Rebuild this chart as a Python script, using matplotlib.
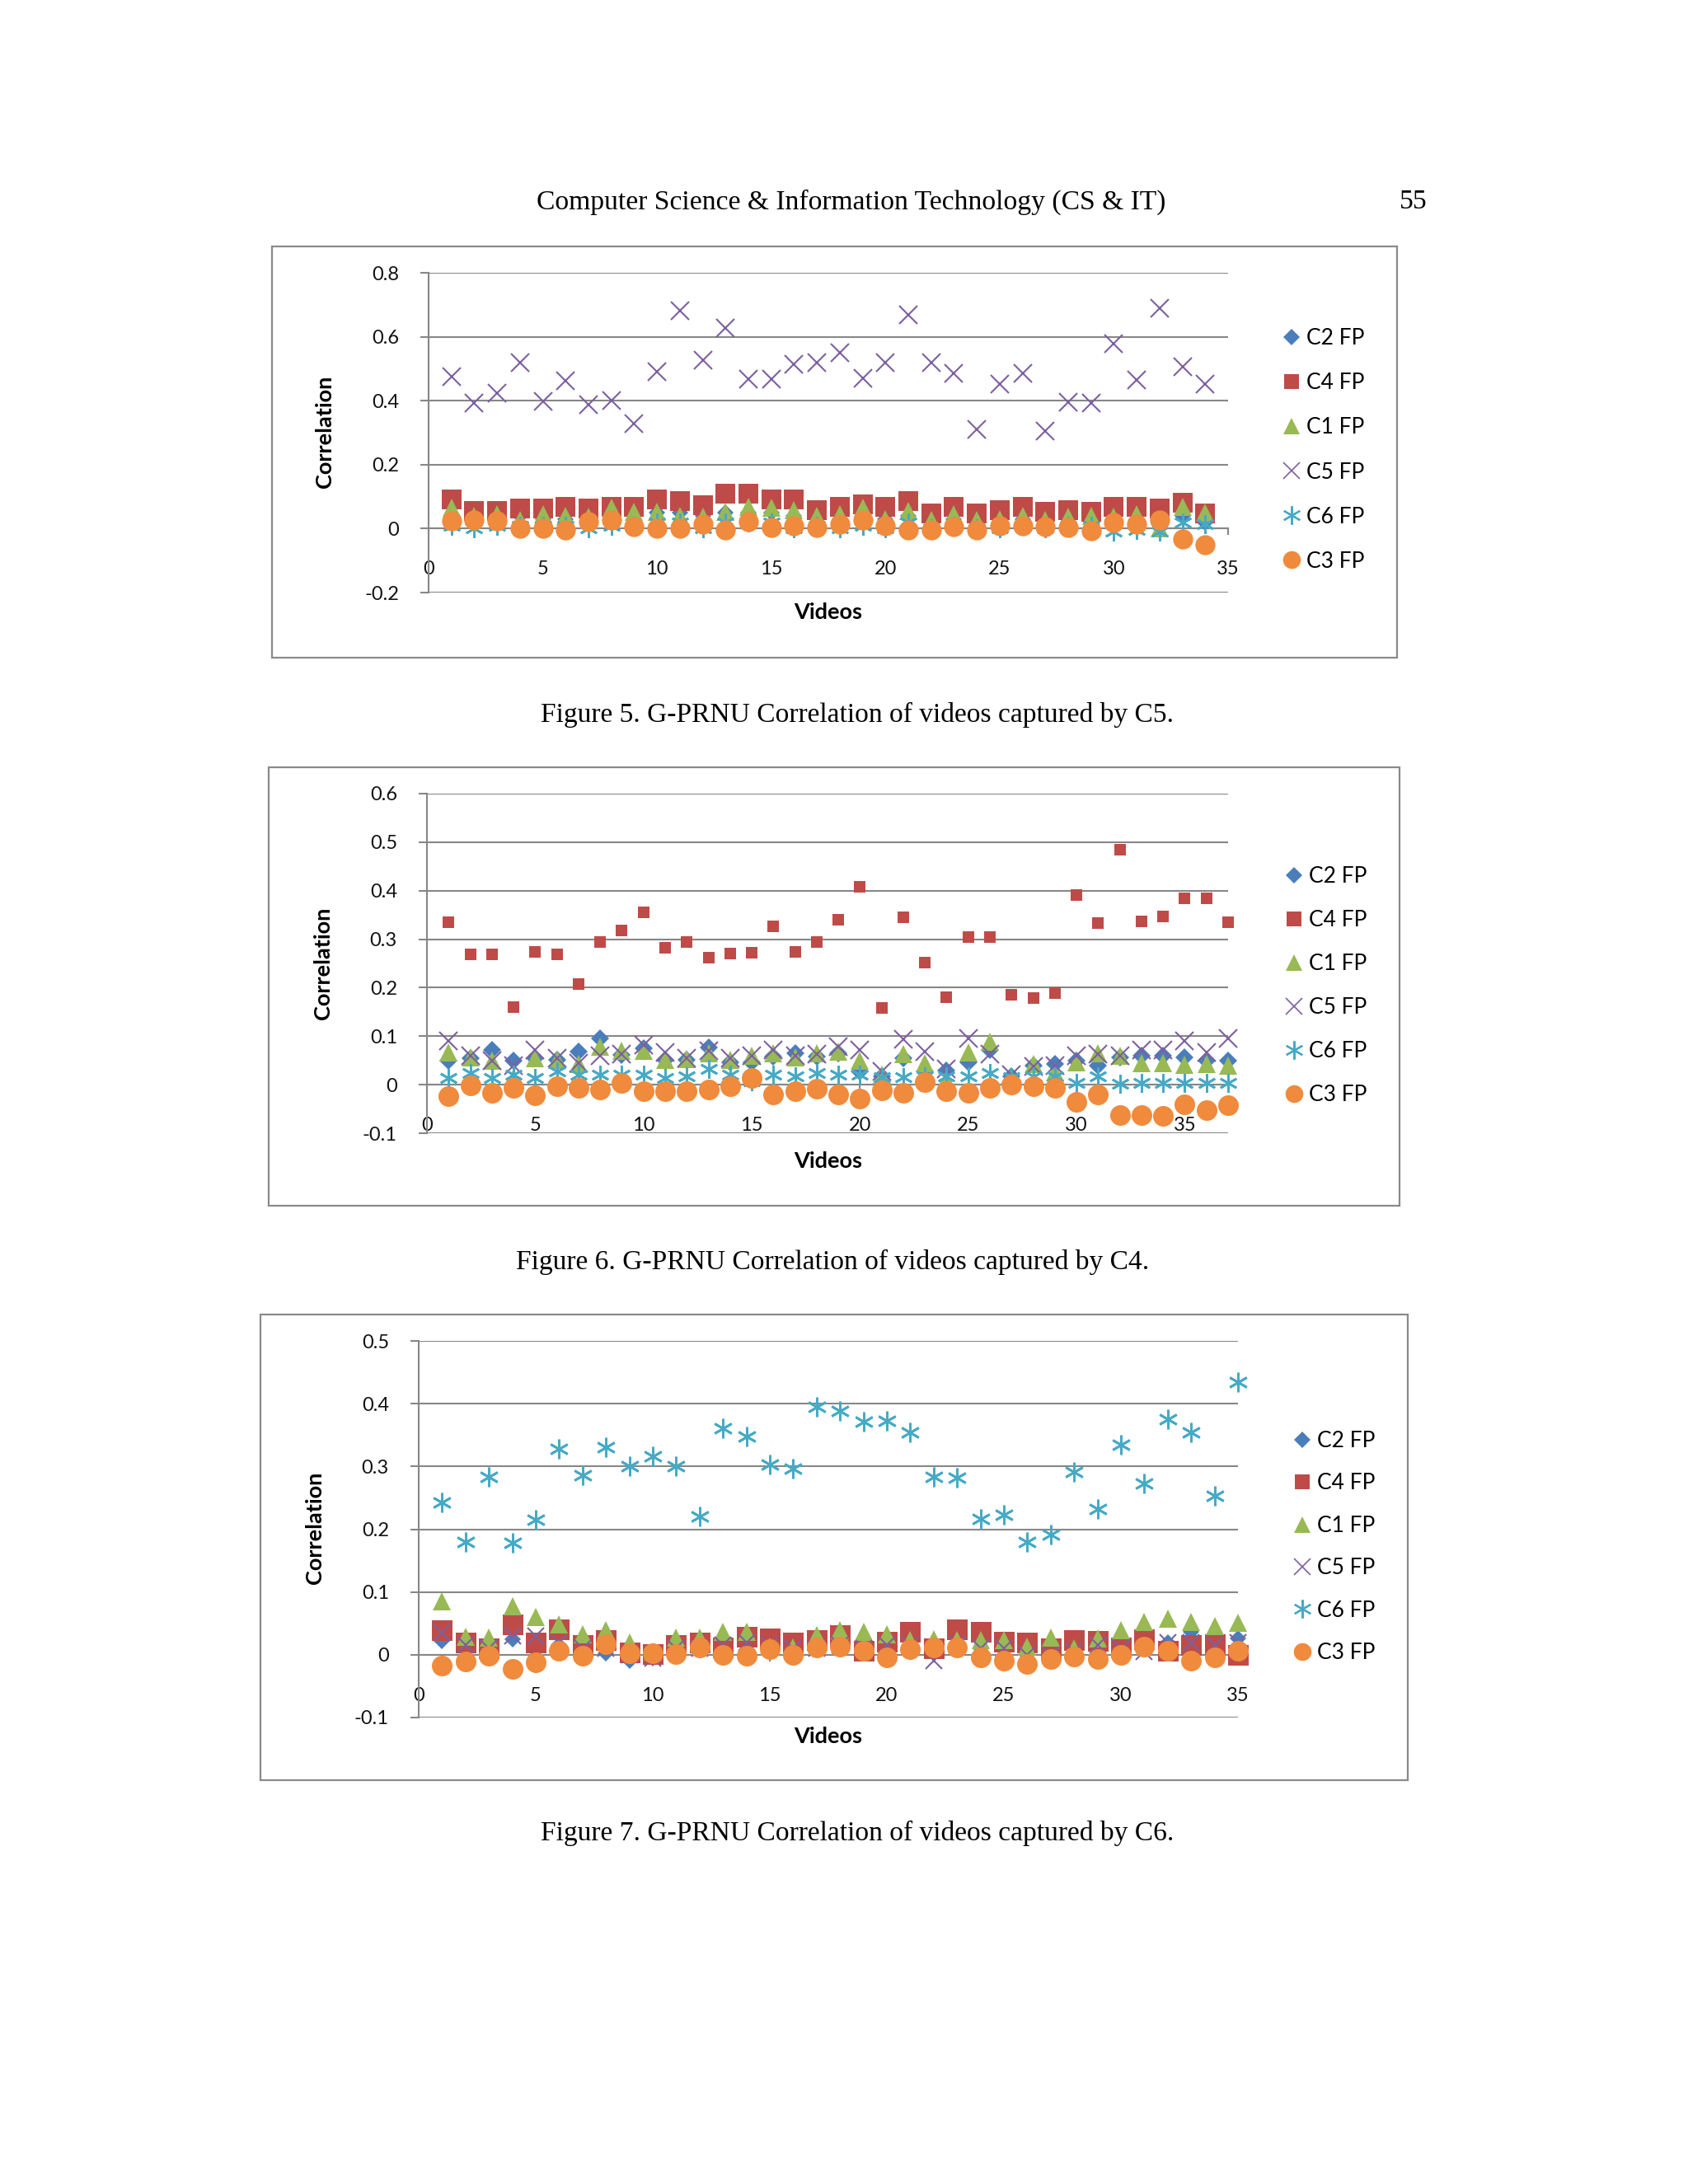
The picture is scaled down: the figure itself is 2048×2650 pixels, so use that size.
import matplotlib
matplotlib.use("Agg")
import matplotlib.pyplot as plt
from matplotlib.lines import Line2D
from matplotlib.patches import Rectangle

# ---------------- data ----------------
series_names = ["C2 FP", "C4 FP", "C1 FP", "C5 FP", "C6 FP", "C3 FP"]

# Figure 5 (videos captured by C5), x = 1..34
f5_x = list(range(1, 35))
f5_c2 = [0.03,0.03,0.03,0.04,0.03,0.03,0.03,0.04,0.03,0.05,0.05,0.04,0.05,0.05,0.05,0.04,0.04,
         0.03,0.04,0.03,0.04,0.03,0.03,0.03,0.03,0.03,0.03,0.03,0.03,0.03,0.03,0.03,0.04,0.02]
f5_c4 = [0.090,0.056,0.056,0.062,0.062,0.069,0.064,0.069,0.069,0.092,0.085,0.073,0.108,0.108,0.092,0.092,0.058,
         0.069,0.075,0.069,0.086,0.047,0.069,0.047,0.058,0.069,0.052,0.058,0.052,0.069,0.069,0.064,0.081,0.047]
f5_c1 = [0.066,0.040,0.045,0.028,0.045,0.040,0.036,0.066,0.053,0.053,0.040,0.036,0.053,0.069,0.066,0.058,0.040,
         0.045,0.066,0.029,0.055,0.028,0.045,0.028,0.029,0.040,0.028,0.036,0.040,0.036,0.045,0.002,0.069,0.049]
f5_c5 = [0.475,0.393,0.425,0.520,0.397,0.462,0.387,0.400,0.329,0.492,0.681,0.528,0.627,0.468,0.468,0.514,0.520,
         0.550,0.471,0.518,0.668,0.518,0.485,0.310,0.453,0.485,0.305,0.396,0.393,0.578,0.465,0.688,0.507,0.451]
f5_c6 = [0.01,0.0,0.01,0.01,0.01,0.01,0.0,0.01,0.01,0.02,0.02,0.0,0.02,0.02,0.02,0.0,0.01,
         0.0,0.01,0.0,0.02,0.0,0.01,0.0,0.0,0.01,0.0,0.01,0.01,-0.01,-0.005,-0.01,0.02,0.015]
f5_c3 = [0.023,0.028,0.023,0.0,0.002,-0.003,0.021,0.028,0.006,0.0,0.0,0.015,-0.003,0.021,0.003,0.009,0.003,
         0.015,0.028,0.010,-0.003,-0.003,0.006,-0.003,0.010,0.009,0.006,0.003,-0.007,0.019,0.015,0.028,-0.033,-0.050]

# Figure 6 (videos captured by C4), x = 1..37
f6_x = list(range(1, 38))
f6_c2 = [0.049,0.055,0.072,0.049,0.055,0.052,0.068,0.095,0.061,0.075,0.052,0.052,0.076,0.046,0.046,0.058,0.064,0.058,0.064,
         0.027,0.018,0.055,0.027,0.029,0.046,0.071,0.018,0.040,0.043,0.049,0.040,0.057,0.060,0.060,0.057,0.050,0.049]
f6_c4 = [0.335,0.268,0.268,0.160,0.274,0.268,0.207,0.294,0.318,0.355,0.283,0.294,0.262,0.271,0.272,0.327,0.273,0.294,0.340,
         0.408,0.159,0.345,0.251,0.180,0.305,0.305,0.185,0.178,0.189,0.391,0.333,0.485,0.337,0.347,0.385,0.385,0.335]
f6_c1 = [0.066,0.057,0.049,0.013,0.054,0.052,0.043,0.079,0.070,0.070,0.051,0.053,0.065,0.052,0.060,0.064,0.056,0.064,0.069,
         0.049,0.020,0.063,0.044,0.010,0.066,0.088,0.015,0.042,0.025,0.046,0.064,0.060,0.045,0.045,0.041,0.042,0.039]
f6_c5 = [0.091,0.060,0.050,0.040,0.071,0.054,0.045,0.060,0.063,0.082,0.066,0.054,0.070,0.054,0.060,0.071,0.060,0.063,0.078,
         0.072,0.027,0.093,0.068,0.032,0.096,0.063,0.021,0.038,0.040,0.060,0.063,0.060,0.071,0.071,0.091,0.066,0.096]
f6_c6 = [0.013,0.024,0.013,0.020,0.013,0.027,0.020,0.021,0.020,0.020,0.013,0.018,0.032,0.020,0.007,0.020,0.018,0.024,0.020,
         0.020,0.015,0.016,0.018,0.018,0.018,0.024,0.015,0.018,0.018,0.004,0.018,0.002,0.004,0.004,0.004,0.004,0.004]
f6_c3 = [-0.024,-0.002,-0.016,-0.007,-0.022,-0.003,-0.007,-0.010,0.003,-0.013,-0.014,-0.013,-0.010,-0.003,0.014,-0.020,-0.014,
         -0.009,-0.020,-0.029,-0.012,-0.017,0.006,-0.014,-0.017,-0.006,0.0,-0.003,-0.006,-0.036,-0.020,-0.063,-0.063,-0.065,
         -0.041,-0.052,-0.043]

# Figure 7 (videos captured by C6), x = 1..35
f7_x = list(range(1, 36))
f7_c2 = [0.022,0.010,0.005,0.025,0.007,0.015,0.005,0.002,-0.009,-0.005,0.005,0.010,0.012,0.020,0.015,0.010,0.010,0.010,
         0.005,0.005,0.010,0.010,0.015,0.010,0.010,0.0,0.005,0.010,0.015,0.015,0.015,0.020,0.037,0.015,0.026]
f7_c4 = [0.039,0.020,0.010,0.049,0.020,0.040,0.015,0.024,0.004,0.001,0.015,0.020,0.011,0.029,0.026,0.020,0.024,0.031,
         0.006,0.021,0.036,0.010,0.040,0.036,0.021,0.020,0.010,0.024,0.022,0.012,0.025,0.007,0.015,0.017,0.0]
f7_c1 = [0.085,0.029,0.027,0.077,0.060,0.048,0.032,0.039,0.020,0.005,0.027,0.027,0.037,0.037,0.013,0.011,0.031,0.039,
         0.036,0.032,0.024,0.025,0.024,0.024,0.023,0.013,0.027,0.010,0.026,0.039,0.052,0.057,0.052,0.046,0.051]
f7_c5 = [0.035,0.015,0.010,0.030,0.030,0.020,0.010,0.010,0.0,-0.005,0.010,0.010,0.015,0.020,0.015,0.010,0.010,0.015,
         0.010,0.015,0.015,-0.009,0.015,0.010,0.010,0.0,0.0,0.005,0.015,0.010,0.005,0.020,0.020,0.015,0.020]
f7_c6 = [0.243,0.180,0.283,0.178,0.215,0.328,0.286,0.330,0.300,0.316,0.301,0.220,0.361,0.348,0.303,0.297,0.395,0.388,
         0.371,0.373,0.354,0.283,0.282,0.216,0.223,0.180,0.192,0.291,0.232,0.334,0.273,0.375,0.354,0.253,0.435]
f7_c3 = [-0.017,-0.011,-0.002,-0.022,-0.012,0.006,-0.002,0.017,0.002,0.003,0.001,0.011,0.0,-0.002,0.009,0.0,0.011,0.013,
         0.006,-0.004,0.009,0.011,0.011,-0.004,-0.009,-0.015,-0.007,-0.003,-0.007,0.0,0.013,0.007,-0.009,-0.004,0.007]

x_ticks = [0, 5, 10, 15, 20, 25, 30, 35]
x_ticklabels = ["0", "5", "10", "15", "20", "25", "30", "35"]
f5_yticks = [-0.2, 0, 0.2, 0.4, 0.6, 0.8]
f5_yticklabels = ["-0.2", "0", "0.2", "0.4", "0.6", "0.8"]
f6_yticks = [-0.1, 0, 0.1, 0.2, 0.3, 0.4, 0.5, 0.6]
f6_yticklabels = ["-0.1", "0", "0.1", "0.2", "0.3", "0.4", "0.5", "0.6"]
f7_yticks = [-0.1, 0, 0.1, 0.2, 0.3, 0.4, 0.5]
f7_yticklabels = ["-0.1", "0", "0.1", "0.2", "0.3", "0.4", "0.5"]

header_text = "Computer Science & Information Technology (CS & IT)"
page_number = "55"
captions = ["Figure 5. G-PRNU Correlation of videos captured by C5.",
            "Figure 6. G-PRNU Correlation of videos captured by C4.",
            "Figure 7. G-PRNU Correlation of videos captured by C6."]
xlabel_text = "Videos"
ylabel_text = "Correlation"

# ---------------- style ----------------
W, H = 2048, 2650
colors = {"C2 FP": "#4A7EBB", "C4 FP": "#BE4B48", "C1 FP": "#98B954",
          "C5 FP": "#7D60A0", "C6 FP": "#46AAC5", "C3 FP": "#F08A3C"}
markers = {"C2 FP": "D", "C4 FP": "s", "C1 FP": "^", "C5 FP": "x", "C6 FP": (6, 2, 0), "C3 FP": "o"}
line_markers = {"C5 FP": 1.5, "C6 FP": 2.0}
sans = ["Lato", "DejaVu Sans"]
serif = ["Liberation Serif", "DejaVu Serif"]
GRID = "#878787"

fig = plt.figure(figsize=(W / 100, H / 100), dpi=100)
fig.patch.set_facecolor("white")


def fx(px):
    return px / W


def fy(py):
    return 1 - py / H


def draw_chart(box, plot, xmax, ylim, yticks, yticklabels, data, sizes, legend_xy, legend_spacing,
               ylab_xy, xlab_xy):
    # chart outer border
    bx0, by0, bx1, by1 = box
    fig.patches.append(Rectangle((fx(bx0), fy(by1)), fx(bx1 - bx0), (by1 - by0) / H,
                                 transform=fig.transFigure, fill=False, edgecolor="#8a8a8a", linewidth=1.6))
    l, r, t, b = plot
    ax = fig.add_axes([fx(l), fy(b), fx(r - l), (b - t) / H])
    for s in ["top", "right"]:
        ax.spines[s].set_visible(False)
    ax.spines["bottom"].set_position(("data", 0))
    ax.spines["bottom"].set_color(GRID)
    ax.spines["bottom"].set_linewidth(1.5)
    ax.spines["left"].set_color(GRID)
    ax.spines["left"].set_linewidth(1.5)
    ax.set_xlim(0, xmax)
    ax.set_ylim(*ylim)
    ax.set_yticks(yticks)
    ax.set_yticklabels(yticklabels, family=sans, fontsize=17)
    ax.set_xticks(x_ticks)
    ax.set_xticklabels(x_ticklabels, family=sans, fontsize=17)
    ax.yaxis.grid(True, color=GRID, linewidth=1.5)
    ax.set_axisbelow(True)
    ax.tick_params(axis="y", direction="out", length=7, width=1.5, color=GRID, pad=19, labelcolor="#111111")
    ax.tick_params(axis="x", direction="out", length=6, width=1.5, color=GRID, pad=22, labelcolor="#111111")
    for name, (xs, ys) in zip(series_names, data):
        m = markers[name]
        lw = line_markers.get(name, 0)
        ax.plot(xs, ys, linestyle="none", marker=m, markersize=sizes[name],
                color=colors[name], markeredgecolor=colors[name],
                markeredgewidth=lw, clip_on=False, zorder=3)
    handles = []
    leg_sizes = {"C2 FP": 10, "C4 FP": 13.5, "C1 FP": 14.5, "C5 FP": 14, "C6 FP": 16, "C3 FP": 15.5}
    for name in series_names:
        handles.append(Line2D([], [], linestyle="none", marker=markers[name], markersize=leg_sizes[name],
                              color=colors[name], markeredgecolor=colors[name],
                              markeredgewidth=line_markers.get(name, 0) * 0.8, label=name))
    ax.legend(handles=handles, loc="center left", bbox_to_anchor=(fx(legend_xy[0]), fy(legend_xy[1])),
              bbox_transform=fig.transFigure, frameon=False, prop={"family": sans, "size": 19},
              labelspacing=legend_spacing, handlelength=0.8, handletextpad=0.3, borderpad=0, borderaxespad=0)
    fig.text(fx(ylab_xy[0]), fy(ylab_xy[1]), ylabel_text, rotation=90, ha="center", va="center",
             family=sans, fontsize=19.5, fontweight="bold")
    fig.text(fx(xlab_xy[0]), fy(xlab_xy[1]), xlabel_text, ha="center", va="center",
             family=sans, fontsize=19.5, fontweight="bold")
    return ax


draw_chart((330, 299, 1695, 798), (520, 1490, 331, 719), 35, (-0.2, 0.8), f5_yticks, f5_yticklabels,
           [(f5_x, f5_c2), (f5_x, f5_c4), (f5_x, f5_c1), (f5_x, f5_c5), (f5_x, f5_c6), (f5_x, f5_c3)],
           {"C2 FP": 10, "C4 FP": 17, "C1 FP": 15.5, "C5 FP": 16.5, "C6 FP": 16, "C3 FP": 17.5},
           (1556, 546), 1.1, (394, 524), (1005, 743))

draw_chart((326, 931, 1698, 1463), (518, 1490, 963, 1375), 37, (-0.1, 0.6), f6_yticks, f6_yticklabels,
           [(f6_x, f6_c2), (f6_x, f6_c4), (f6_x, f6_c1), (f6_x, f6_c5), (f6_x, f6_c6), (f6_x, f6_c3)],
           {"C2 FP": 11, "C4 FP": 10, "C1 FP": 15.5, "C5 FP": 16, "C6 FP": 16, "C3 FP": 18},
           (1559, 1196), 1.06, (392, 1169), (1005, 1409))

draw_chart((316, 1595, 1708, 2160), (508, 1502, 1627, 2084), 35, (-0.1, 0.5), f7_yticks, f7_yticklabels,
           [(f7_x, f7_c2), (f7_x, f7_c4), (f7_x, f7_c1), (f7_x, f7_c5), (f7_x, f7_c6), (f7_x, f7_c3)],
           {"C2 FP": 10, "C4 FP": 18, "C1 FP": 16, "C5 FP": 15, "C6 FP": 17, "C3 FP": 18},
           (1569, 1877), 1.0, (382, 1854), (1005, 2107))

fig.text(fx(1033), fy(245), header_text, ha="center", va="center", family=serif, fontsize=24.2)
fig.text(fx(1715), fy(245), page_number, ha="center", va="center", family=serif, fontsize=24.2)
fig.text(fx(1040), fy(867), captions[0], ha="center", va="center", family=serif, fontsize=24.1)
fig.text(fx(1010), fy(1531), captions[1], ha="center", va="center", family=serif, fontsize=24.1)
fig.text(fx(1040), fy(2224), captions[2], ha="center", va="center", family=serif, fontsize=24.1)

fig.savefig("out.png", dpi=100, facecolor="white")
